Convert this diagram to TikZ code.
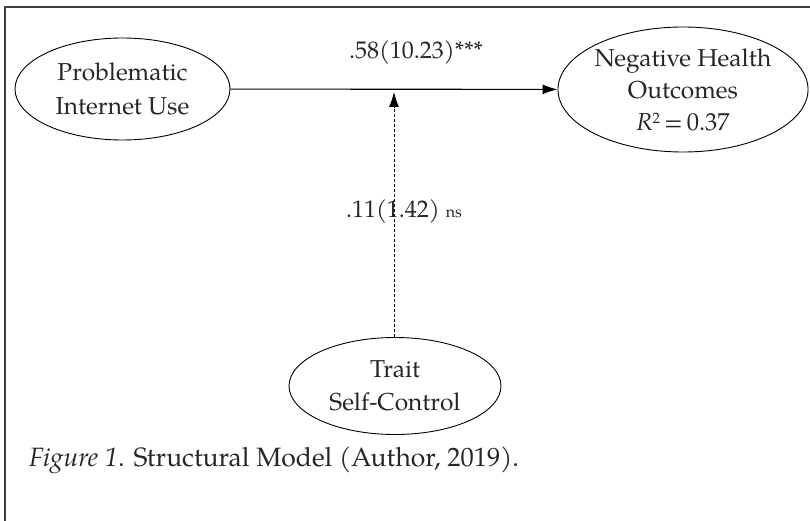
\documentclass[tikz,border=0pt]{standalone}
\usepackage{fontspec}
\setmainfont{TeX Gyre Pagella}
\usetikzlibrary{shapes.geometric,arrows.meta}
\newcommand{\smallsup}[1]{\raisebox{0.62ex}{\fontsize{15}{15}\selectfont #1}}
\begin{document}
\begin{tikzpicture}[x=1pt,y=-1pt,
  latent/.style={draw=black,ellipse,line width=0.9pt,inner sep=0pt,align=center,
    font=\fontsize{24.5}{34}\selectfont,text=black!85},
  lbl/.style={inner sep=0pt,anchor=base,font=\fontsize{24}{30}\selectfont,text=black!85},
  path/.style={line width=1.1pt,-{Latex[length=15pt,width=10pt]}},
  frame/.style={draw=black!75,line width=1.4pt}]
\useasboundingbox (0,0) rectangle (810,521);
\draw[frame] (5,521) -- (5,7) -- (810,7);
\node[latent,minimum width=215pt,minimum height=102pt] (piu) at (122.5,89) {Problematic\\Internet Use};
\node[latent,minimum width=240pt,minimum height=125pt,font=\fontsize{24.5}{32}\selectfont] (nho) at (683,89.5) {Negative Health\\Outcomes\\\textit{R}\smallsup{2}\,=\,0.37};
\node[latent,minimum width=212pt,minimum height=97pt,font=\fontsize{24.5}{33}\selectfont] (tsc) at (395,386) {Trait\\Self-Control};
\draw[path] (piu) -- (nho);
\coordinate (tip) at (394,92);
\draw[path,dash pattern=on 3pt off 2pt,line width=0.9pt] (tsc.north -| tip) -- (tip);
\node[lbl] (l1) at (416,59) {.58(10.23)***};
\node[lbl] (l2) at (404,218) {.11(1.42) {\fontsize{16}{20}\selectfont ns}};
\node[lbl,anchor=base west,font=\fontsize{26.5}{32}\selectfont] (cap) at (29,466) {\textit{Figure 1}. Structural Model (Author, 2019).};
\end{tikzpicture}
\end{document}
